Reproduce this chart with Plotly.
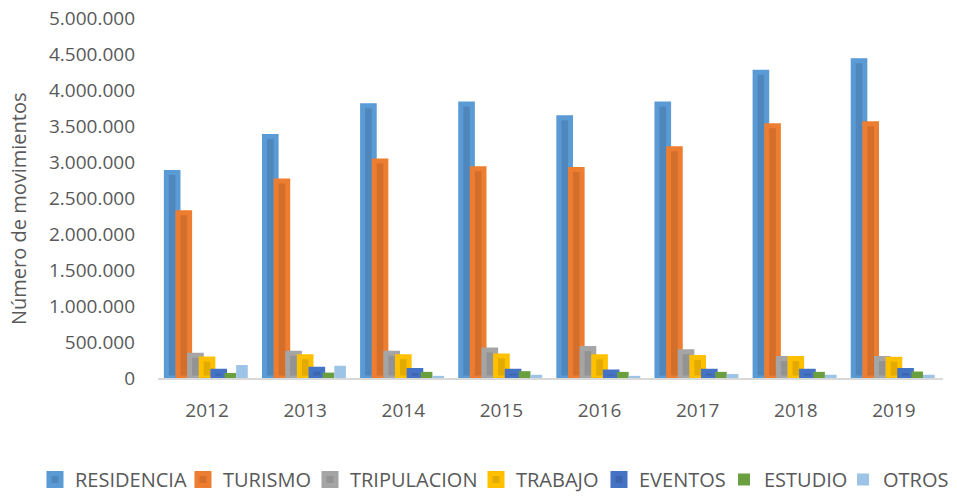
import plotly.graph_objects as go

years = ["2012", "2013", "2014", "2015", "2016", "2017", "2018", "2019"]
residencia = [2855000, 3355000, 3780000, 3805000, 3615000, 3805000, 4245000, 4405000]
turismo = [2295000, 2735000, 3015000, 2905000, 2895000, 3185000, 3505000, 3530000]
tripulacion = [315000, 345000, 345000, 390000, 410000, 365000, 270000, 270000]
trabajo = [265000, 295000, 295000, 305000, 295000, 285000, 270000, 260000]
eventos = [95000, 120000, 105000, 95000, 85000, 95000, 95000, 105000]
estudio = [70000, 75000, 85000, 95000, 85000, 85000, 85000, 90000]
otros = [180000, 170000, 30000, 45000, 30000, 55000, 45000, 45000]

yticks = [0, 500000, 1000000, 1500000, 2000000, 2500000, 3000000, 3500000,
          4000000, 4500000, 5000000]

series = [
    ("RESIDENCIA", residencia, "#4F87BC", "#5B9BD5", 5),
    ("TURISMO", turismo, "#D36E2B", "#ED7D31", 5),
    ("TRIPULACION", tripulacion, "#939393", "#A5A5A5", 5),
    ("TRABAJO", trabajo, "#E3AB00", "#FFC000", 5),
    ("EVENTOS", eventos, "#3C65AE", "#4472C4", 5),
    ("ESTUDIO", estudio, "#6A9F40", "#6A9F40", 0),
    ("OTROS", otros, "#9DC3E6", "#9DC3E6", 0),
]
# legend text start positions (pixels)
legend_text_x = [76, 224, 351, 517, 640, 765, 884]

font_family = "Open Sans"
grey = "#595959"
PL, PR = 158, 943
PW = PR - PL

fig = go.Figure()
legends = {}
for i, (name, vals, inner, outer, lw) in enumerate(series):
    lname = "legend" if i == 0 else f"legend{i + 1}"
    fig.add_trace(go.Bar(
        name=name, x=years, y=vals,
        marker=dict(color=inner, line=dict(color=outer, width=lw)),
        cliponaxis=False, legend=lname,
    ))
    left = legend_text_x[i] - 41
    legends[lname] = dict(
        orientation="h", x=(left - PL) / PW, xanchor="left",
        y=-(499 - 378) / 360, yanchor="bottom", bgcolor="rgba(0,0,0,0)",
        font=dict(family=font_family, size=20, color=grey),
        itemwidth=30,
    )

fig.update_layout(
    width=957, height=499,
    margin=dict(l=PL, r=957 - PR, t=18, b=121, autoexpand=False),
    paper_bgcolor="white", plot_bgcolor="white",
    barmode="group", bargap=0.17, bargroupgap=0,
    separators=",.",
    font=dict(family=font_family, size=19, color=grey),
    showlegend=True,
    xaxis=dict(
        showgrid=False, showline=True, linecolor="#D9D9D9", linewidth=2,
        ticks="", tickfont=dict(size=19, color=grey), ticklabelstandoff=14,
    ),
    yaxis=dict(
        range=[0, 5000000], tickvals=yticks, tickformat=",d",
        showgrid=False, showline=False, zeroline=False, ticks="",
        tickfont=dict(size=19, color=grey), ticklabelstandoff=22,
    ),
    annotations=[dict(
        text="Número de movimientos", xref="paper", yref="paper",
        x=(18 - PL) / PW, y=(378 - 209) / 360, xanchor="center", yanchor="middle",
        textangle=-90, showarrow=False,
        font=dict(family=font_family, size=20, color=grey),
    )],
    **legends,
)

fig.write_html(
    "out.html",
    config={"displayModeBar": False},
    post_script="document.body.style.margin='0';document.body.style.overflow='hidden';",
)
